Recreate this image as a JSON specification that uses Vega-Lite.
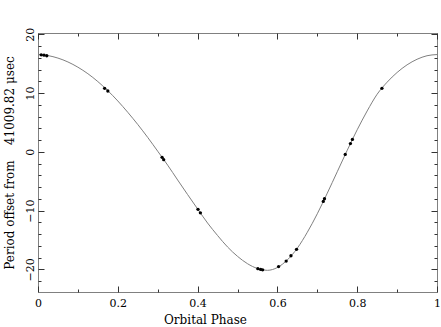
{
  "$schema": "https://vega.github.io/schema/vega-lite/v6.json",
  "width": 399,
  "height": 259,
  "autosize": "none",
  "padding": {"left": 38, "top": 33, "right": 4, "bottom": 35},
  "background": "white",
  "config": {
    "view": {"stroke": "#808080", "strokeWidth": 1},
    "font": "DejaVu Serif",
    "axis": {
      "domain": false,
      "grid": false,
      "labelFont": "DejaVu Serif",
      "titleFont": "DejaVu Serif",
      "labelFontSize": 11,
      "titleFontSize": 12,
      "labelColor": "black",
      "titleColor": "black",
      "titleFontWeight": "normal",
      "tickColor": "#333333",
      "tickWidth": 1
    }
  },
  "datasets": {
    "curve": [
      {"phase": 0, "offset": 16.55},
      {"phase": 0.025, "offset": 16.375},
      {"phase": 0.05, "offset": 15.95},
      {"phase": 0.075, "offset": 15.29},
      {"phase": 0.1, "offset": 14.4},
      {"phase": 0.125, "offset": 13.29},
      {"phase": 0.15, "offset": 11.95},
      {"phase": 0.175, "offset": 10.4},
      {"phase": 0.2, "offset": 8.65},
      {"phase": 0.225, "offset": 6.72},
      {"phase": 0.25, "offset": 4.65},
      {"phase": 0.275, "offset": 2.44},
      {"phase": 0.3, "offset": 0.1},
      {"phase": 0.325, "offset": -2.28},
      {"phase": 0.35, "offset": -4.8},
      {"phase": 0.375, "offset": -7.29},
      {"phase": 0.4, "offset": -9.73},
      {"phase": 0.425, "offset": -12.13},
      {"phase": 0.45, "offset": -14.25},
      {"phase": 0.475, "offset": -16.2},
      {"phase": 0.5, "offset": -17.8},
      {"phase": 0.525, "offset": -19.05},
      {"phase": 0.55, "offset": -19.87},
      {"phase": 0.5625, "offset": -20.08},
      {"phase": 0.575, "offset": -20.18},
      {"phase": 0.5875, "offset": -20.05},
      {"phase": 0.6, "offset": -19.7},
      {"phase": 0.625, "offset": -18.4},
      {"phase": 0.65, "offset": -16.4},
      {"phase": 0.675, "offset": -13.7},
      {"phase": 0.7, "offset": -10.55},
      {"phase": 0.725, "offset": -7.05},
      {"phase": 0.75, "offset": -3.4},
      {"phase": 0.775, "offset": 0.25},
      {"phase": 0.8, "offset": 3.75},
      {"phase": 0.825, "offset": 6.95},
      {"phase": 0.85, "offset": 9.8},
      {"phase": 0.875, "offset": 11.85},
      {"phase": 0.9, "offset": 13.5},
      {"phase": 0.925, "offset": 14.8},
      {"phase": 0.95, "offset": 15.75},
      {"phase": 0.975, "offset": 16.35},
      {"phase": 1.0, "offset": 16.55}
    ],
    "obs": [
      {"phase": 0.008, "offset": 16.5},
      {"phase": 0.015, "offset": 16.45},
      {"phase": 0.022, "offset": 16.35},
      {"phase": 0.167, "offset": 10.8},
      {"phase": 0.175, "offset": 10.35},
      {"phase": 0.311, "offset": -0.95},
      {"phase": 0.315, "offset": -1.35},
      {"phase": 0.401, "offset": -9.8},
      {"phase": 0.407, "offset": -10.4},
      {"phase": 0.551, "offset": -19.9},
      {"phase": 0.558, "offset": -20.02},
      {"phase": 0.563, "offset": -20.1},
      {"phase": 0.603, "offset": -19.55},
      {"phase": 0.622, "offset": -18.6},
      {"phase": 0.634, "offset": -17.7},
      {"phase": 0.648, "offset": -16.6},
      {"phase": 0.715, "offset": -8.45},
      {"phase": 0.718, "offset": -8.0},
      {"phase": 0.77, "offset": -0.45},
      {"phase": 0.783, "offset": 1.4},
      {"phase": 0.788, "offset": 2.1},
      {"phase": 0.862, "offset": 10.8}
    ]
  },
  "layer": [
    {
      "data": {"name": "curve"},
      "mark": {"type": "line", "color": "#808080", "strokeWidth": 1, "interpolate": "monotone"},
      "encoding": {
        "x": {
          "field": "phase", "type": "quantitative",
          "scale": {"domain": [0, 1], "nice": false},
          "axis": {
            "orient": "bottom", "values": [0, 0.2, 0.4, 0.6, 0.8, 1], "format": "~g",
            "tickSize": -6, "labelPadding": 11, "labelFlush": false,
            "title": "Orbital Phase", "titleX": 167, "titleY": 31,
            "titleBaseline": "alphabetic", "titleAlign": "center", "titleAnchor": null
          }
        },
        "y": {
          "field": "offset", "type": "quantitative",
          "scale": {"domain": [-23.87, 20.22], "nice": false, "zero": false},
          "axis": {
            "orient": "left", "values": [-20, -10, 0, 10, 20],
            "tickSize": -6, "labelAngle": -90, "labelAlign": "center", "labelBaseline": "alphabetic",
            "labelPadding": 10.7, "labelFlush": false,
            "title": "Period offset from\u00a0\u00a0\u00a0\u00a041009.82 μsec",
            "titleX": -25, "titleY": 129.5, "titleAngle": -90,
            "titleBaseline": "alphabetic", "titleAlign": "center"
          }
        }
      }
    },
    {
      "data": {"name": "obs"},
      "mark": {"type": "point", "filled": true, "color": "black", "size": 11, "opacity": 1},
      "encoding": {
        "x": {"field": "phase", "type": "quantitative",
          "axis": {"orient": "top", "values": [0, 0.2, 0.4, 0.6, 0.8, 1], "tickSize": -6, "labels": false, "title": null}},
        "y": {"field": "offset", "type": "quantitative",
          "axis": {"orient": "right", "values": [-20, -10, 0, 10, 20], "tickSize": -6, "labels": false, "title": null}}
      }
    },
    {
      "data": {"name": "obs"},
      "mark": {"type": "point", "filled": true, "opacity": 0},
      "encoding": {
        "x": {"field": "phase", "type": "quantitative",
          "axis": {"orient": "bottom", "values": [0.1, 0.3, 0.5, 0.7, 0.9], "tickSize": -3, "labels": false, "title": null}},
        "y": {"field": "offset", "type": "quantitative",
          "axis": {"orient": "left", "values": [-22, -18, -16, -14, -12, -8, -6, -4, -2, 2, 4, 6, 8, 12, 14, 16, 18], "tickSize": -3, "labels": false, "title": null}}
      }
    },
    {
      "data": {"name": "obs"},
      "mark": {"type": "point", "filled": true, "opacity": 0},
      "encoding": {
        "x": {"field": "phase", "type": "quantitative",
          "axis": {"orient": "top", "values": [0.1, 0.3, 0.5, 0.7, 0.9], "tickSize": -3, "labels": false, "title": null}},
        "y": {"field": "offset", "type": "quantitative",
          "axis": {"orient": "right", "values": [-22, -18, -16, -14, -12, -8, -6, -4, -2, 2, 4, 6, 8, 12, 14, 16, 18], "tickSize": -3, "labels": false, "title": null}}
      }
    }
  ],
  "resolve": {"axis": {"x": "independent", "y": "independent"}}
}
